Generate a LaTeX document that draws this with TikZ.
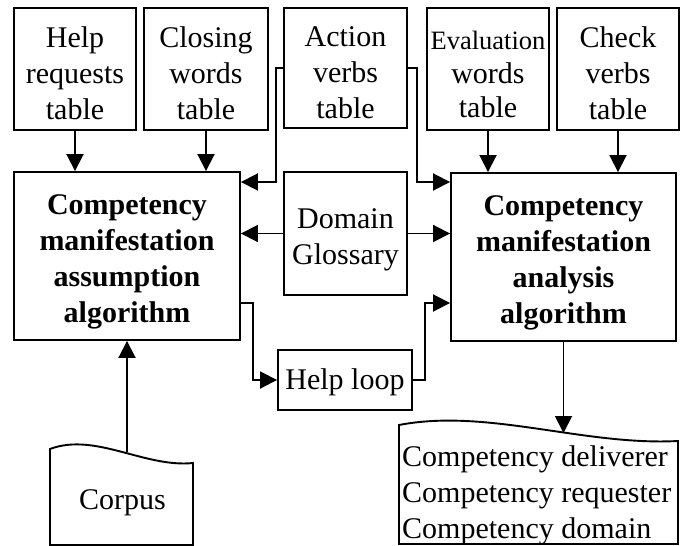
\documentclass[tikz,border=0pt]{standalone}
\usepackage{fontspec}
\setmainfont{Liberation Serif}
\usetikzlibrary{arrows.meta}
% raises the top of a multi-line label so that its lines sit a little lower
\newcommand{\topgap}[1]{\rule{0pt}{#1}}
\begin{document}
\begin{tikzpicture}[x=1pt,y=-1pt,
  every node/.style={font=\fontsize{30}{36}\selectfont},
  box/.style={draw, line width=1.9pt, align=center, inner sep=0pt},
  algo/.style={box, font=\fontsize{30}{36}\selectfont\bfseries},
  arr/.style={line width=1.9pt, -{Triangle[length=17pt,width=17pt]}},
  doc/.style={line width=1.9pt}]
\useasboundingbox (0,0) rectangle (683,546);

% lookup tables
\node[box, minimum width=122pt, minimum height=122pt] (help) at (75,69) {\topgap{30pt}Help\\requests\\table};
\node[box, minimum width=124pt, minimum height=122pt] (closing) at (206,69) {\topgap{30pt}Closing\\words\\table};
\node[box, minimum width=123pt, minimum height=120pt] (action) at (345.5,68) {\topgap{30pt}Action\\verbs\\table};
\node[box, minimum width=122pt, minimum height=122pt] (eval) at (488,69) {\topgap{30pt}{\fontsize{26.5}{33}\selectfont Evaluation}\\[-2pt]words\\[-2pt]table};
\node[box, minimum width=122pt, minimum height=122pt] (check) at (618,69) {\topgap{30pt}Check\\verbs\\table};

% algorithms
\node[algo, minimum width=226pt, minimum height=168pt] (lbox) at (127,256) {\topgap{32pt}Competency\\manifestation\\assumption\\algorithm};
\node[algo, minimum width=225pt, minimum height=168pt] (rbox) at (563.5,257) {\topgap{32pt}Competency\\manifestation\\analysis\\algorithm};
\node[box, minimum width=123pt, minimum height=123pt] (gloss) at (345.5,233.5) {\topgap{32pt}Domain\\Glossary};
\node[box, minimum width=134pt, minimum height=60pt, text height=26pt, text depth=6.5pt] (hloop) at (345,380) {Help loop};

% documents
\draw[doc] (50,545) -- (50,449) .. controls (95,432) and (145,468) .. (193,463) -- (193,545) -- cycle;
\node (corpus) at (122.5,503) {Corpus};
\draw[doc] (399,544) -- (399,425) .. controls (487,408) and (584,446) .. (678,441) -- (678,544) -- cycle;
\node[align=left, anchor=west, inner sep=0pt] (roles) at (402,495) {Competency deliverer\\Competency requester\\Competency domain};

% connectors
\coordinate (a1) at (276,182);
\coordinate (a2) at (417,182);
\coordinate (h1) at (253,303);
\coordinate (h2) at (425,303);
\coordinate (ctop) at (127,452);
\coordinate (otop) at (563.5,433);

\draw[arr] (help.south) -- (help.south |- lbox.north);
\draw[arr] (closing.south) -- (closing.south |- lbox.north);
\draw[arr] (eval.south) -- (eval.south |- rbox.north);
\draw[arr] (check.south) -- (check.south |- rbox.north);
\draw[arr] (action.west) -| (a1) -- (a1 -| lbox.east);
\draw[arr] (action.east) -| (a2) -- (a2 -| rbox.west);
\draw[arr] (gloss.west) -- (gloss.west -| lbox.east);
\draw[arr] (gloss.east) -- (gloss.east -| rbox.west);
\draw[arr] (h1 -| lbox.east) -- (h1) |- (hloop.west);
\draw[arr] (hloop.east) -| (h2) -- (h2 -| rbox.west);
\draw[arr] (ctop) -- (ctop |- lbox.south);
\draw[arr] (rbox.south) -- (otop);
\end{tikzpicture}
\end{document}
